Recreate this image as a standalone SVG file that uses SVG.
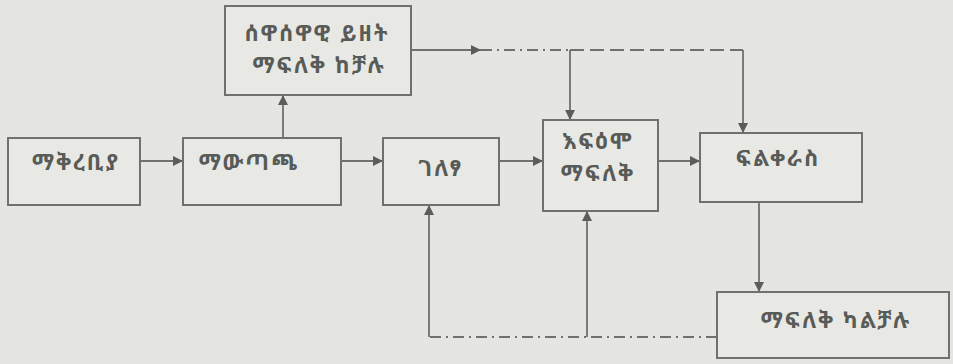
<svg xmlns="http://www.w3.org/2000/svg" width="953" height="364" viewBox="0 0 953 364">
<style>
.bg{fill:#e5e6e2}
.box{fill:#e8e9e5;stroke:#6e716d;stroke-width:2}
.t{font-family:"Noto Sans Ethiopic","Noto Serif Ethiopic","Abyssinica SIL","Noto Sans","DejaVu Sans",sans-serif;font-size:22px;letter-spacing:2px;fill:#585b57;font-weight:bold;text-anchor:middle}
.c{fill:none;stroke:#6e716d;stroke-width:1.8}
.d{stroke-dasharray:11 5 2 5}
.e{stroke-dasharray:14 6}
</style>
<defs>
<marker id="ah" viewBox="0 0 10 10" refX="10" refY="5" markerWidth="10" markerHeight="10" markerUnits="userSpaceOnUse" orient="auto">
<path d="M0,0 L10,5 L0,10 Z" fill="#5a5d59"/>
</marker>
</defs>
<rect class="bg" x="0" y="0" width="953" height="364"/>
<g id="connectors">
<path class="c" d="M140,161 H183" marker-end="url(#ah)"/>
<path class="c" d="M341,161 H383" marker-end="url(#ah)"/>
<path class="c" d="M499,161 H543" marker-end="url(#ah)"/>
<path class="c" d="M658,161 H700" marker-end="url(#ah)"/>
<path class="c" d="M283,138 V95" marker-end="url(#ah)"/>
<path class="c" d="M411,50 H481" marker-end="url(#ah)"/>
<path class="c d" d="M481,50 H570"/>
<path class="c e" d="M570,50 H743"/>
<path class="c" d="M570,50 V120" marker-end="url(#ah)"/>
<path class="c" d="M743,50 V133" marker-end="url(#ah)"/>
<path class="c" d="M759,202 V292" marker-end="url(#ah)"/>
<path class="c d" d="M717,337 H429"/>
<path class="c" d="M429,337 V205" marker-end="url(#ah)"/>
<path class="c" d="M587,337 V211" marker-end="url(#ah)"/>
</g>
<g id="n-top">
<rect class="box" x="225" y="6" width="186" height="89"/>
<text class="t" x="317" y="41">ሰዋሰዋዊ ይዘት</text>
<text class="t" x="319" y="73">ማፍለቅ ከቻሉ</text>
</g>
<g id="n-1">
<rect class="box" x="8" y="138" width="132" height="67"/>
<text class="t" x="76" y="170">ማቅረቢያ</text>
</g>
<g id="n-2">
<rect class="box" x="183" y="138" width="158" height="67"/>
<text class="t" x="249" y="170">ማውጣጫ</text>
</g>
<g id="n-3">
<rect class="box" x="383" y="138" width="116" height="67"/>
<text class="t" x="441" y="176">ገለፃ</text>
</g>
<g id="n-4">
<rect class="box" x="543" y="120" width="115" height="91"/>
<text class="t" x="598" y="149">እፍዕሞ</text>
<text class="t" x="598" y="181">ማፍለቅ</text>
</g>
<g id="n-5">
<rect class="box" x="700" y="133" width="162" height="69"/>
<text class="t" x="778" y="166">ፍልቀራስ</text>
</g>
<g id="n-6">
<rect class="box" x="717" y="292" width="232" height="66"/>
<text class="t" x="836" y="328">ማፍለቅ ካልቻሉ</text>
</g>
</svg>
